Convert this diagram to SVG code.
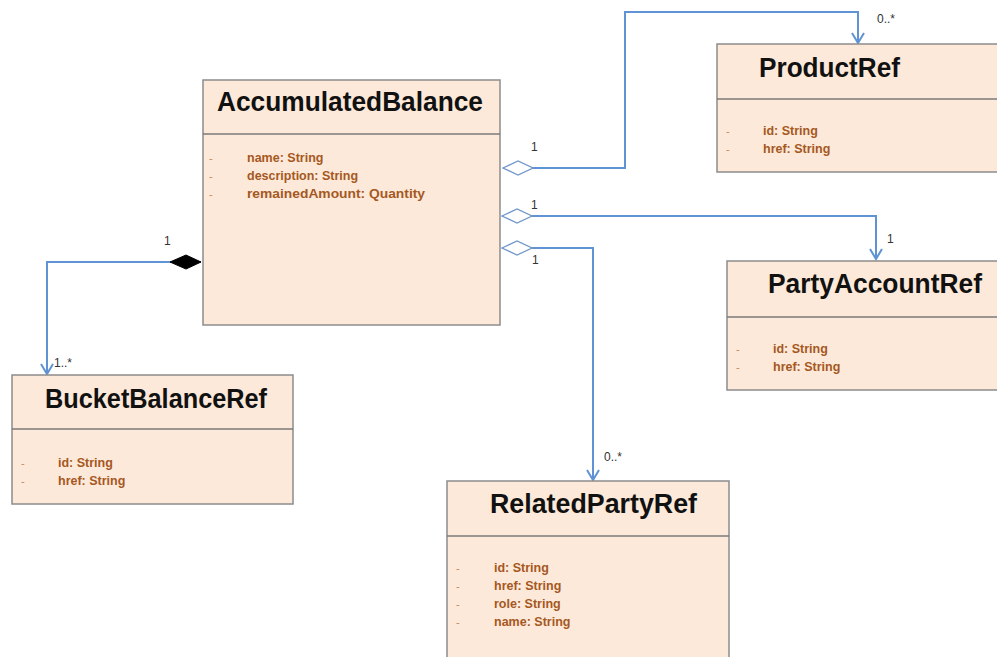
<svg xmlns="http://www.w3.org/2000/svg" width="997" height="657" viewBox="0 0 997 657">
<style>
.box{fill:#fde9d9;stroke:#8c8c8c;stroke-width:1.5}
.div{stroke:#7a7a7a;stroke-width:1.5}
.title{font-family:"Liberation Sans",Arial,sans-serif;font-weight:bold;font-size:27px;fill:#111}
.attr{font-family:"Liberation Sans",Arial,sans-serif;font-weight:bold;font-size:12.5px;fill:#a5581f}
.dash{font-family:"Liberation Sans",Arial,sans-serif;font-size:11px;fill:#c58a5e}
.conn{fill:none;stroke:#5f93d3;stroke-width:2}
.mult{font-family:"Liberation Sans",Arial,sans-serif;font-size:12px;fill:#333}
</style>
<defs>
<marker id="arrow" markerUnits="userSpaceOnUse" markerWidth="16" markerHeight="16" viewBox="-12 -8 14 16" refX="0" refY="0" orient="auto">
<path d="M-10,-6 L0,0 L-10,6" fill="none" stroke="#5f93d3" stroke-width="2"/>
</marker>
<marker id="odiamond" markerUnits="userSpaceOnUse" markerWidth="34" markerHeight="18" viewBox="-2 -9 34 18" refX="0" refY="0" orient="auto">
<path d="M0,0 L15,-7 L30,0 L15,7 Z" fill="#fff" stroke="#6f97c9" stroke-width="1.3"/>
</marker>
<marker id="fdiamond" markerUnits="userSpaceOnUse" markerWidth="34" markerHeight="18" viewBox="-2 -9 34 18" refX="0" refY="0" orient="auto">
<path d="M0,0 L15,-7 L31,0 L15,7 Z" fill="#000" stroke="#000" stroke-width="1"/>
</marker>
</defs>
<rect width="997" height="657" fill="#fff"/>

<g id="connectors">
<path class="conn" d="M503,168 H625 V12 H858 V43" marker-start="url(#odiamond)" marker-end="url(#arrow)"/>
<path class="conn" d="M502,216 H876 V259" marker-start="url(#odiamond)" marker-end="url(#arrow)"/>
<path class="conn" d="M502,248 H593 V480" marker-start="url(#odiamond)" marker-end="url(#arrow)"/>
<path class="conn" d="M201,262 H47 V374" marker-start="url(#fdiamond)" marker-end="url(#arrow)"/>
<text class="mult" x="531" y="151">1</text>
<text class="mult" x="877" y="23">0..*</text>
<text class="mult" x="531" y="209">1</text>
<text class="mult" x="887" y="243">1</text>
<text class="mult" x="532" y="264">1</text>
<text class="mult" x="604" y="461">0..*</text>
<text class="mult" x="164" y="245">1</text>
<text class="mult" x="54" y="367">1..*</text>
</g>

<g id="AccumulatedBalance">
<rect class="box" x="203" y="80" width="297" height="245"/>
<line class="div" x1="203" y1="134" x2="500" y2="134"/>
<text class="title" x="217" y="111" textLength="266" lengthAdjust="spacingAndGlyphs">AccumulatedBalance</text>
<text class="dash" x="209" y="162">-</text><text class="attr" x="247" y="162">name: String</text>
<text class="dash" x="209" y="180">-</text><text class="attr" x="247" y="180">description: String</text>
<text class="dash" x="209" y="198">-</text><text class="attr" x="247" y="198" textLength="178" lengthAdjust="spacingAndGlyphs">remainedAmount: Quantity</text>
</g>

<g id="ProductRef">
<rect class="box" x="717" y="44" width="285" height="128"/>
<line class="div" x1="717" y1="99" x2="1002" y2="99"/>
<text class="title" x="759" y="77" textLength="141" lengthAdjust="spacingAndGlyphs">ProductRef</text>
<text class="dash" x="726" y="135">-</text><text class="attr" x="763" y="135">id: String</text>
<text class="dash" x="726" y="153">-</text><text class="attr" x="763" y="153">href: String</text>
</g>

<g id="PartyAccountRef">
<rect class="box" x="727" y="261" width="275" height="129"/>
<line class="div" x1="727" y1="317" x2="1002" y2="317"/>
<text class="title" x="768" y="293" textLength="214" lengthAdjust="spacingAndGlyphs">PartyAccountRef</text>
<text class="dash" x="736" y="353">-</text><text class="attr" x="773" y="353">id: String</text>
<text class="dash" x="736" y="371">-</text><text class="attr" x="773" y="371">href: String</text>
</g>

<g id="BucketBalanceRef">
<rect class="box" x="12" y="375" width="281" height="129"/>
<line class="div" x1="12" y1="429" x2="293" y2="429"/>
<text class="title" x="45" y="408" textLength="222" lengthAdjust="spacingAndGlyphs">BucketBalanceRef</text>
<text class="dash" x="21" y="467">-</text><text class="attr" x="58" y="467">id: String</text>
<text class="dash" x="21" y="485">-</text><text class="attr" x="58" y="485">href: String</text>
</g>

<g id="RelatedPartyRef">
<rect class="box" x="447" y="481" width="282" height="185"/>
<line class="div" x1="447" y1="536" x2="729" y2="536"/>
<text class="title" x="490" y="513" textLength="207" lengthAdjust="spacingAndGlyphs">RelatedPartyRef</text>
<text class="dash" x="456" y="572">-</text><text class="attr" x="494" y="572">id: String</text>
<text class="dash" x="456" y="590">-</text><text class="attr" x="494" y="590">href: String</text>
<text class="dash" x="456" y="608">-</text><text class="attr" x="494" y="608">role: String</text>
<text class="dash" x="456" y="626">-</text><text class="attr" x="494" y="626">name: String</text>
</g>
</svg>
